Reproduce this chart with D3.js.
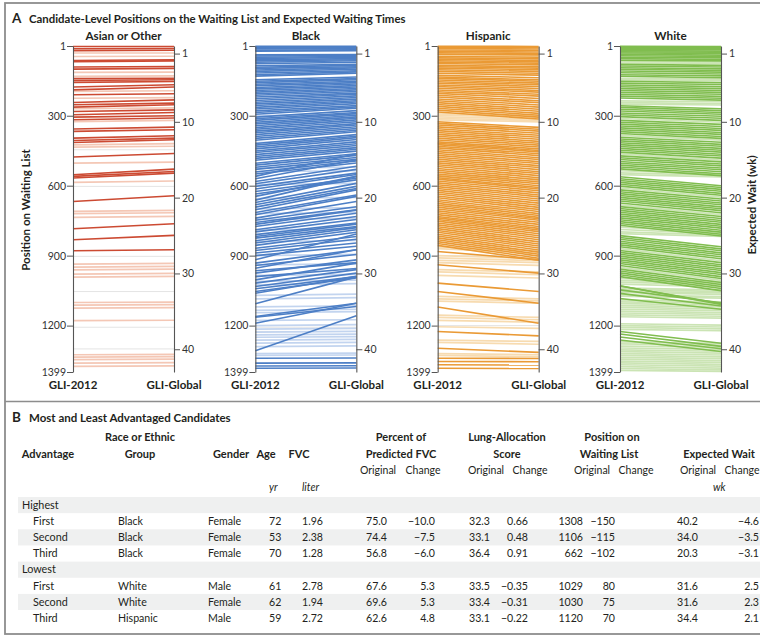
<!DOCTYPE html>
<html><head><meta charset="utf-8">
<script src="https://cdn.jsdelivr.net/npm/d3@7"></script>
<style>
body{margin:0;background:#fff}
svg{display:block}
text{font-family:Lato,"Open Sans","Noto Sans",sans-serif;fill:#231f20}
</style>
</head><body>
<svg id="c" width="760" height="637"></svg>
<script>
// ---------------- DATA ----------------
const groups = ["Asian or Other", "Black", "Hispanic", "White"];
const posTicks = [1, 300, 600, 900, 1200, 1399];
const weekTicks = [1, 10, 20, 30, 40];
const xLabels = ["GLI-2012", "GLI-Global"];

// [position under GLI-2012, position under GLI-Global]
const asianStrong = [[3,3],[13,12],[21,19],[63,60],[68,65],[91,89],[100,97],[141,139],[149,146],[157,153],[177,167],[189,177],[210,206],[243,232],[253,246],[263,253],[282,275],[296,286],[306,300],[317,310],[357,349],[367,360],[396,386],[406,396],[415,403],[477,462],[553,529],[560,539],[567,546],[668,643],[785,763],[832,813],[879,875]];
const asianLight = [[31,31],[46,45],[114,113],[131,129],[196,193],[225,222],[270,266],[325,320],[425,420],[435,431],[503,499],[586,580],[710,706],[720,716],[736,732],[936,933],[949,946],[961,958],[979,976],[992,989],[1101,1099],[1112,1110],[1125,1123],[1179,1177],[1325,1323],[1335,1333],[1346,1344],[1361,1359],[1375,1373]];
const asianGray = [446,603,903,1054,1207,1300];

const blackStrong = [[2,2],[6,5],[10,9],[14,13],[19,17],[23,21],[39,38],[44,42],[49,46],[54,50],[60,55],[65,60],[71,64],[77,71],[86,80],[92,84],[97,90],[104,95],[110,101],[117,107],[124,112],[130,118],[146,134],[152,141],[158,146],[165,152],[171,158],[179,164],[185,171],[192,177],[199,183],[206,189],[212,196],[220,203],[227,208],[235,215],[242,222],[249,229],[256,236],[264,241],[271,248],[279,256],[286,262],[294,268],[306,278],[313,286],[320,291],[328,298],[335,305],[343,311],[351,318],[358,326],[366,334],[373,340],[381,347],[389,355],[397,362],[405,369],[419,381],[426,388],[434,394],[442,402],[451,412],[458,420],[467,428],[475,437],[483,444],[491,452],[504,463],[512,470],[521,479],[530,487],[541,494],[550,503],[560,463],[570,490],[582,517],[592,530],[603,546],[614,552],[625,568],[636,575],[646,560],[662,560],[672,590],[682,603],[692,612],[703,618],[715,640],[725,646],[739,668],[748,690],[758,703],[766,705],[775,718],[789,732],[798,745],[810,760],[818,765],[825,775],[836,780],[846,789],[856,800],[868,818],[878,830],[889,846],[900,860],[918,807],[932,875],[942,895],[954,875],[965,930],[975,918],[990,955],[1004,932],[1018,960],[1032,975],[1042,990],[1054,996],[1061,989],[1106,991],[1161,1104],[1164,1118],[1190,1104],[1308,1158],[1340,1339],[1361,1360],[1373,1372],[1383,1382]];
const blackLight = [[300,296],[312,308],[330,326],[362,358],[415,410],[440,436],[525,520],[540,536],[595,590],[655,650],[700,694],[720,715],[745,740],[790,785],[840,835],[900,895],[940,935],[985,980],[1010,1005],[1025,1020],[1070,1065],[1085,1080],[1120,1115],[1135,1130],[1145,1140],[1178,1175],[1200,1196],[1215,1212],[1228,1225],[1240,1237],[1250,1247],[1262,1259],[1275,1272],[1290,1287],[1320,1318],[1328,1326]];
const blackGray = [1207,1225];

const hispanicStrong = [[2,3],[7,8],[12,14],[18,20],[24,27],[30,33],[36,39],[46,49],[52,56],[58,63],[64,69],[70,75],[76,82],[84,90],[90,96],[96,103],[103,110],[110,118],[118,126],[127,137],[134,146],[140,152],[147,160],[154,167],[161,175],[168,183],[175,192],[182,199],[190,208],[197,216],[204,226],[212,236],[220,244],[228,254],[236,263],[244,272],[252,281],[260,290],[268,298],[276,306],[284,314],[326,350],[333,358],[340,366],[348,375],[356,384],[364,392],[372,401],[380,410],[388,418],[396,426],[404,434],[412,442],[418,449],[424,455],[431,463],[438,471],[446,480],[454,488],[462,497],[470,505],[478,514],[486,522],[494,531],[502,540],[510,548],[518,557],[526,566],[534,575],[542,584],[550,592],[558,600],[566,608],[572,614],[580,622],[588,631],[596,640],[604,648],[612,657],[620,666],[628,675],[636,684],[644,693],[652,702],[660,711],[668,720],[676,728],[684,736],[692,742],[700,748],[708,757],[716,766],[724,775],[732,783],[738,790],[745,797],[752,806],[760,815],[768,823],[776,832],[784,841],[792,850],[800,859],[808,867],[816,876],[824,885],[832,894],[840,902],[848,911],[856,920],[882,918],[939,975],[1018,1054],[1054,1104],[1120,1190],[1225,1244],[1297,1315],[1340,1341],[1354,1355],[1368,1369],[1383,1384]];
const hispanicLight = [[40,42],[44,47],[292,300],[298,306],[305,314],[312,320],[318,326],[555,570],[565,580],[685,700],[862,880],[870,890],[900,912],[910,922],[920,930],[930,942],[960,970],[970,982],[985,996],[1075,1085],[1085,1094],[1095,1104],[1155,1165],[1165,1175],[1178,1185],[1205,1212],[1262,1268],[1272,1280],[1320,1325],[1328,1333]];
const hispanicGray = [296,900,1200];

const whiteStrong = [[2,3],[6,7],[11,12],[16,17],[21,23],[26,28],[31,33],[37,40],[43,46],[49,52],[55,59],[62,65],[80,84],[87,91],[94,99],[101,106],[108,113],[116,121],[124,129],[131,137],[152,158],[160,166],[168,175],[176,184],[184,192],[192,200],[200,208],[208,217],[216,225],[224,233],[257,270],[264,278],[272,286],[280,294],[288,302],[296,311],[304,320],[320,337],[328,346],[336,355],[344,363],[352,372],[360,380],[368,389],[376,397],[392,414],[400,423],[408,431],[416,440],[424,448],[432,456],[440,465],[448,473],[456,482],[472,498],[480,507],[488,515],[496,524],[504,532],[512,540],[520,549],[528,557],[562,600],[570,608],[578,616],[586,624],[594,633],[602,641],[618,657],[626,666],[634,674],[642,682],[650,691],[658,699],[666,707],[674,716],[690,732],[698,741],[706,749],[714,757],[722,766],[730,774],[738,782],[746,791],[754,799],[762,808],[770,816],[814,862],[822,871],[830,879],[838,888],[846,896],[854,905],[862,913],[878,930],[886,939],[894,947],[902,956],[910,964],[918,973],[926,981],[934,990],[942,998],[958,1015],[966,1024],[974,1032],[982,1041],[990,1050],[1029,1109],[1030,1105],[1047,1102],[1062,1116],[1084,1130],[1225,1276],[1236,1289],[1249,1299],[1262,1311]];
const whiteLight = [[68,70],[74,76],[140,143],[146,148],[236,240],[244,248],[250,254],[312,328],[384,405],[464,490],[536,550],[545,556],[553,562],[610,649],[682,724],[778,800],[788,806],[798,812],[806,818],[870,922],[950,1006],[998,1010],[1006,1018],[1014,1026],[1022,1034],[1038,1048],[1044,1054],[1052,1060],[1058,1066],[1068,1076],[1074,1082],[1090,1098],[1098,1104],[1106,1112],[1114,1120],[1122,1128],[1130,1136],[1138,1144],[1146,1152],[1154,1160],[1162,1168],[1192,1198],[1200,1206],[1208,1214],[1216,1222],[1270,1276],[1278,1284],[1288,1292],[1296,1302],[1304,1310],[1312,1318],[1320,1326],[1328,1334],[1336,1342],[1344,1350],[1352,1358],[1360,1366],[1368,1374],[1376,1382],[1384,1390],[1392,1396]];
const whiteGray = [];

// Panel B table
const advGroups = ["Highest", "Lowest"];
const rankLabels = ["First", "Second", "Third", "First", "Second", "Third"];
const raceGroup = ["Black", "Black", "Black", "White", "White", "Hispanic"];
const gender = ["Female", "Female", "Female", "Male", "Female", "Male"];
const ageYr = [72, 53, 70, 61, 62, 59];
const fvcLiter = [1.96, 2.38, 1.28, 2.78, 1.94, 2.72];
const pctPredOrig = [75.0, 74.4, 56.8, 67.6, 69.6, 62.6];
const pctPredChange = [-10.0, -7.5, -6.0, 5.3, 5.3, 4.8];
const lasOrig = [32.3, 33.1, 36.4, 33.5, 33.4, 33.1];
const lasChange = [0.66, 0.48, 0.91, -0.35, -0.31, -0.22];
const listPosOrig = [1308, 1106, 662, 1029, 1030, 1120];
const listPosChange = [-150, -115, -102, 80, 75, 70];
const waitOrig = [40.2, 34.0, 20.3, 31.6, 31.6, 34.4];
const waitChange = [-4.6, -3.5, -3.1, 2.5, 2.3, 2.1];

// ---------------- DRAW ----------------
const svg = d3.select("#c");
const strongSets = [asianStrong, blackStrong, hispanicStrong, whiteStrong];
const lightSets = [asianLight, blackLight, hispanicLight, whiteLight];
const graySets = [asianGray, blackGray, hispanicGray, whiteGray];
const strongCol = ["#cc4a32", "#4d7fc6", "#ea9a35", "#80bd4f"];
const lightCol = ["#f4c7b5", "#c2d4ef", "#f7dbb0", "#cbe4b4"];

const panelX = d3.scalePoint().domain(groups).range([73, 620]);
const panelW = 101;
const yPos = d3.scaleLinear().domain([1, 1399]).range([46, 372]);
const yWeek = d3.scaleLinear().domain([0, 43]).range([46, 372]);

// frame
svg.append("rect").attr("x", 5).attr("y", 3).attr("width", 780).attr("height", 631)
  .attr("fill", "none").attr("stroke", "#8d8d8d").attr("stroke-width", 1.8);
svg.append("line").attr("x1", 5).attr("x2", 760).attr("y1", 401.5).attr("y2", 401.5)
  .attr("stroke", "#8d8d8d").attr("stroke-width", 1.5);

// titles
svg.append("text").attr("x", 12).attr("y", 22.5).attr("font-size", 13.5).attr("font-weight", 700).text("A");
svg.append("text").attr("x", 29).attr("y", 22.5).attr("font-size", 11.4).attr("font-weight", 700)
  .text("Candidate-Level Positions on the Waiting List and Expected Waiting Times");
svg.append("text").attr("x", 12).attr("y", 421.5).attr("font-size", 13.5).attr("font-weight", 700).text("B");
svg.append("text").attr("x", 29).attr("y", 421.5).attr("font-size", 11.5).attr("font-weight", 700)
  .text("Most and Least Advantaged Candidates");

// axis titles
svg.append("text").attr("transform", "translate(30,210) rotate(-90)").attr("text-anchor", "middle")
  .attr("font-size", 11.5).attr("font-weight", 700).text("Position on Waiting List");
svg.append("text").attr("transform", "translate(756,205) rotate(-90)").attr("text-anchor", "middle")
  .attr("font-size", 11.5).attr("font-weight", 700).text("Expected Wait (wk)");

groups.forEach((g, i) => {
  const x0 = panelX(g), x1 = x0 + panelW;
  const gp = svg.append("g");
  gp.append("g").selectAll("line").data(graySets[i]).join("line")
    .attr("x1", x0).attr("x2", x1).attr("y1", d => yPos(d)).attr("y2", d => yPos(d))
    .attr("stroke", "#e4e4e4").attr("stroke-width", 1);
  gp.append("g").selectAll("line").data(lightSets[i]).join("line")
    .attr("x1", x0).attr("x2", x1).attr("y1", d => yPos(d[0])).attr("y2", d => yPos(d[1]))
    .attr("stroke", lightCol[i]).attr("stroke-width", 1.7);
  gp.append("g").selectAll("line").data(strongSets[i]).join("line")
    .attr("x1", x0).attr("x2", x1).attr("y1", d => yPos(d[0])).attr("y2", d => yPos(d[1]))
    .attr("stroke", strongCol[i]).attr("stroke-width", 1.6);

  const ax = gp.append("g").attr("transform", `translate(${x0},0)`)
    .call(d3.axisLeft(yPos).tickValues(posTicks).tickFormat(d3.format("d"))
      .tickSize(6).tickSizeOuter(0).tickPadding(1));
  const ax2 = gp.append("g").attr("transform", `translate(${x1},0)`)
    .call(d3.axisRight(yWeek).tickValues(weekTicks).tickFormat(d3.format("d"))
      .tickSize(6).tickSizeOuter(0).tickPadding(2));
  [ax, ax2].forEach(a => {
    a.attr("font-family", null).attr("font-size", null);
    a.select(".domain").attr("stroke", "#555").attr("stroke-width", 1.1);
    a.selectAll(".tick line").attr("stroke", "#555");
    a.selectAll(".tick text").attr("font-size", 10.5).style("fill", "#333");
  });

  gp.append("text").attr("x", (x0 + x1) / 2).attr("y", 40).attr("text-anchor", "middle")
    .attr("font-size", 11.7).attr("font-weight", 700).text(g);
  gp.append("text").attr("x", x0).attr("y", 388.5).attr("text-anchor", "middle")
    .attr("font-size", 11.5).attr("font-weight", 700).text(xLabels[0]);
  gp.append("text").attr("x", x1).attr("y", 388.5).attr("text-anchor", "middle")
    .attr("font-size", 11.5).attr("font-weight", 700).text(xLabels[1]);
});

// ---- table ----
const tb = svg.append("g");
const hdr = (x, y, t, opts = {}) => tb.append("text").attr("x", x).attr("y", y)
  .attr("text-anchor", opts.anchor || "middle").attr("font-size", opts.size || 11)
  .attr("font-weight", opts.bold === false ? 400 : 700)
  .attr("font-style", opts.italic ? "italic" : null).text(t);

hdr(140, 441, "Race or Ethnic");
hdr(401, 441, "Percent of");
hdr(507, 441, "Lung-Allocation");
hdr(612, 441, "Position on");
hdr(48, 457.5, "Advantage");
hdr(140, 457.5, "Group");
hdr(231, 457.5, "Gender");
hdr(266, 457.5, "Age");
hdr(299, 457.5, "FVC");
hdr(401, 457.5, "Predicted FVC");
hdr(507, 457.5, "Score");
hdr(609, 457.5, "Waiting List");
hdr(719, 457.5, "Expected Wait");
[[378, 423], [486, 530], [592, 636], [698, 742]].forEach(([a, b]) => {
  hdr(a, 474, "Original", {bold: false, size: 10.5});
  hdr(b, 474, "Change", {bold: false, size: 10.5});
});
hdr(269, 491, "yr", {bold: false, italic: true, anchor: "start", size: 10.5});
hdr(302, 491, "liter", {bold: false, italic: true, anchor: "start", size: 10.5});
hdr(713, 491, "wk", {bold: false, italic: true, anchor: "start", size: 10.5});

const rowH = 16.15, rowTop = 497;
const f1 = d3.format(".1f"), f2 = d3.format(".2f"), f0 = d3.format("d");
const cols = [
  {v: raceGroup, x: 118, a: "start", f: d => d},
  {v: gender, x: 208, a: "start", f: d => d},
  {v: ageYr, x: 269, a: "start", f: f0},
  {v: fvcLiter, x: 302, a: "start", f: f2},
  {v: pctPredOrig, x: 387, a: "end", f: f1},
  {v: pctPredChange, x: 435, a: "end", f: f1},
  {v: lasOrig, x: 490, a: "end", f: f1},
  {v: lasChange, x: 528, a: "end", f: f2},
  {v: listPosOrig, x: 583, a: "end", f: f0},
  {v: listPosChange, x: 615, a: "end", f: f0},
  {v: waitOrig, x: 698, a: "end", f: f1},
  {v: waitChange, x: 759, a: "end", f: f1}
];
for (let r = 0; r < 8; r++) {
  if (r % 2 === 0) tb.append("rect").attr("x", 18).attr("y", rowTop + r * rowH).attr("width", 745)
    .attr("height", rowH).attr("fill", "#eff0f0");
}
for (let r = 0; r < 8; r++) {
  const yb = rowTop + r * rowH + 11.8;
  if (r % 4 === 0) {
    tb.append("text").attr("x", 22).attr("y", yb).attr("font-size", 10.8).text(advGroups[r / 4]);
  } else {
    const k = r < 4 ? r - 1 : r - 2;
    tb.append("text").attr("x", 33).attr("y", yb).attr("font-size", 10.8).text(rankLabels[k]);
    cols.forEach(c => {
      tb.append("text").attr("x", c.x).attr("y", yb).attr("text-anchor", c.a)
        .attr("font-size", 10.6).text(c.f(c.v[k]));
    });
  }
}
</script>
</body></html>
